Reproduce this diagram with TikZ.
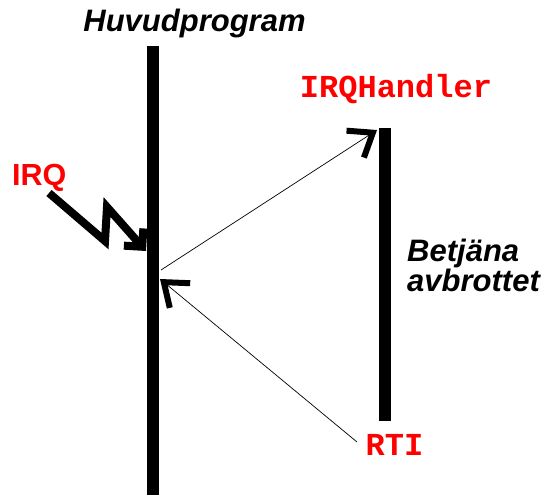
\documentclass[tikz,border=0pt]{standalone}
\usepackage{fontspec}
\setmainfont{Liberation Sans}
\newfontfamily\codefont{Liberation Mono}
\usepackage{tikz}
\usetikzlibrary{arrows.meta}
\definecolor{irqred}{HTML}{FF0000}
\definecolor{thin}{HTML}{A0A0A0}

\begin{document}
\begin{tikzpicture}[x=1pt,y=-1pt,
  bar/.style={line width=12pt},
  lbl/.style={inner sep=0pt,font=\fontsize{31}{30}\selectfont\bfseries\itshape},
  code/.style={inner sep=0pt,text=irqred,font=\fontsize{32}{32}\selectfont\codefont\bfseries},
  link/.style={thin,line width=0.7pt,
               -{Straight Barb[black,line width=6pt,length=21pt,width=32pt]}},
  zig/.style={line width=8pt,-{Straight Barb[length=13pt,width=26pt]}}]
\useasboundingbox (0,0) rectangle (548,495);
\node[lbl,anchor=base] (main) at (194.5,32) {Huvudprogram};
\node[lbl,anchor=base west,text=irqred,font=\fontsize{30.5}{30}\selectfont\bfseries] (irq) at (12,185) {IRQ};
\node[code,anchor=base] (handler) at (396,97) {IRQHandler};
\node[code,anchor=base] (rti) at (394.5,455) {RTI};
\node[lbl,anchor=base west,align=left] (serve) at (407,291) {Betjäna\\avbrottet};
% the two program flows
\coordinate (mtop) at (153,46);
\coordinate (mbot) at (153,495);
\coordinate (htop) at (385,128);
\coordinate (hbot) at (385,421);
\draw[bar] (mtop) -- (mbot);
\draw[bar] (htop) -- (hbot);
% interrupt request
\coordinate (z0) at (49,193);
\coordinate (z1) at (105,241);
\coordinate (z2) at (107,207);
\coordinate (z3) at (146,251);
\draw[zig] (z0) -- (z1) -- (z2) -- (z3);
% jump and return
\coordinate (out) at (161,270);
\coordinate (in) at (377,130);
\coordinate (back) at (160,279);
\coordinate (done) at (357,442);
\draw[link] (out) -- (in);
\draw[link] (done) -- (back);
\end{tikzpicture}
\end{document}
